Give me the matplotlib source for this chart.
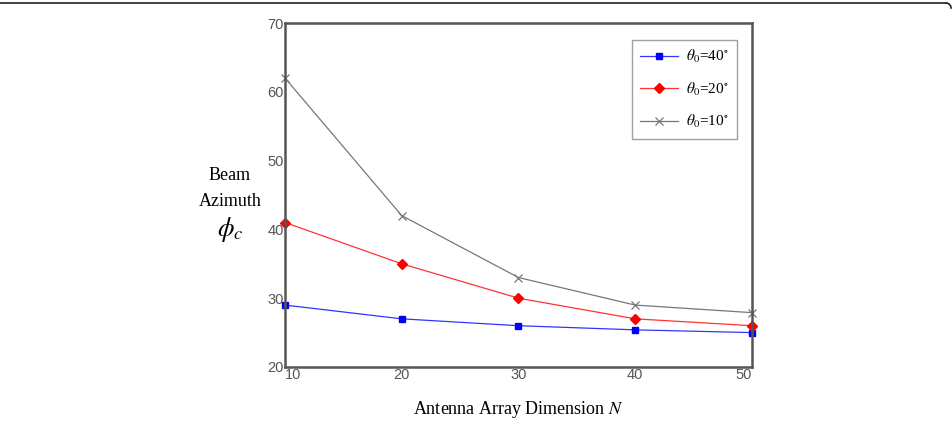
import numpy as np
import matplotlib.pyplot as plt
from matplotlib.lines import Line2D

# data
N = [10, 20, 30, 40, 50]
theta40 = [29.0, 27.0, 26.0, 25.4, 25.0]
theta20 = [41.0, 35.0, 30.0, 27.0, 26.0]
theta10 = [62.0, 42.0, 33.0, 29.0, 27.9]
x_ticks = [10, 20, 30, 40, 50]
y_ticks = [20, 30, 40, 50, 60, 70]

W, H = 953, 430
fig = plt.figure(figsize=(W / 100, H / 100), dpi=100)
fig.patch.set_facecolor('white')

# axes box in pixels: left 285, right 752, top 23, bottom 367
ax = fig.add_axes([285 / W, 1 - 367 / H, (752 - 285) / W, (367 - 23) / H])

ax.plot(N, theta40, color='#3333ff', lw=0.9, marker='s', ms=5,
        mfc='#0000ff', mec='#0000ff', clip_on=False, label=r'$\theta_0$=40$^{\circ}$')
ax.plot(N, theta20, color='#ff3333', lw=0.9, marker='D', ms=5,
        mfc='#ff0000', mec='#ff0000', clip_on=False, label=r'$\theta_0$=20$^{\circ}$')
ax.plot(N, theta10, color='#777777', lw=0.9, marker='x', ms=6,
        mew=0.9, clip_on=False, label=r'$\theta_0$=10$^{\circ}$')

ax.set_xlim(10, 50)
ax.set_ylim(20, 70)
ax.set_xticks(x_ticks)
ax.set_yticks(y_ticks)
ax.tick_params(length=0, labelsize=10.5, labelcolor='#555555', pad=1)
for lab in ax.get_xticklabels() + ax.get_yticklabels():
    lab.set_family('Liberation Sans')
ax.get_xticklabels()[0].set_ha('left')
ax.get_xticklabels()[-1].set_ha('right')

for s in ax.spines.values():
    s.set_color('#555555')
    s.set_linewidth(1.8)

leg = ax.legend(loc='upper right', bbox_to_anchor=(0.968, 0.951), borderaxespad=0,
                frameon=True, fancybox=False, edgecolor='#888888', handlelength=2.5,
                handletextpad=0.5, borderpad=0.55, labelspacing=1.0,
                prop={'family': 'Liberation Serif', 'size': 11, 'math_fontfamily': 'stix'})
leg.get_frame().set_linewidth(1.0)

# axis labels in serif
fig.text(230 / W, 1 - 176 / H, 'Beam', ha='center', va='center',
         family='Liberation Serif', fontsize=13)
fig.text(230 / W, 1 - 201 / H, 'Azimuth', ha='center', va='center',
         family='Liberation Serif', fontsize=13)
fig.text(230 / W, 1 - 230 / H, r'$\phi_c$', ha='center', va='center',
         fontsize=19, math_fontfamily='stix')
fig.text(518 / W, 1 - 410 / H, 'Antenna Array Dimension $N$', ha='center', va='center',
         family='Liberation Serif', fontsize=13, math_fontfamily='stix')

# page frame at the top edge
fig.add_artist(Line2D([0, 946 / W], [1 - 3 / H, 1 - 3 / H], color='#222222', lw=1.2))
t = np.linspace(0, np.pi / 2, 20)
fig.add_artist(Line2D((946 + 5 * np.sin(t)) / W, 1 - (3 + 5 * (1 - np.cos(t))) / H,
                      color='#222222', lw=1.2))

fig.savefig('out.png', dpi=100)
